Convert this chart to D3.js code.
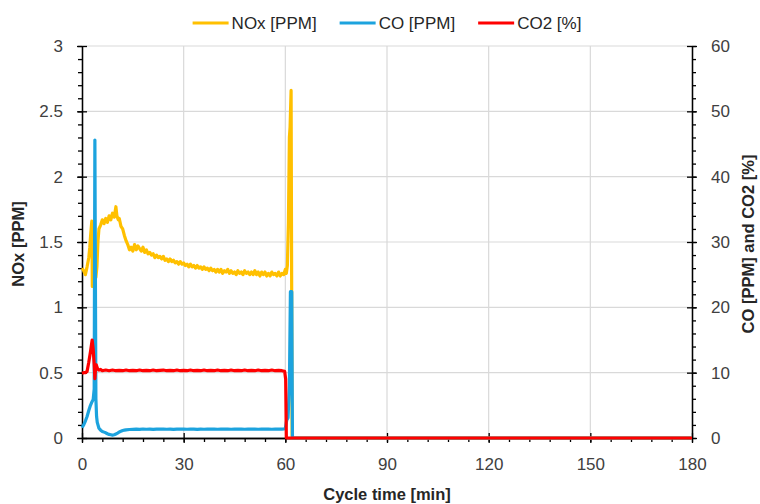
<!DOCTYPE html>
<html><head><meta charset="utf-8">
<script src="https://cdn.jsdelivr.net/npm/d3@7"></script>
<style>
html,body{margin:0;padding:0;background:#fff;}
svg{display:block;}
text{font-family:"Liberation Sans", Arial, sans-serif;}
</style></head>
<body>
<svg id="chart" width="760" height="504"></svg>
<script>
// ---- data ----
const xTickValues = [0, 30, 60, 90, 120, 150, 180];
const leftTickValues = [0, 0.5, 1, 1.5, 2, 2.5, 3];
const rightTickValues = [0, 10, 20, 30, 40, 50, 60];
const seriesNames = ["NOx [PPM]", "CO [PPM]", "CO2 [%]"];

const noxTime = [0,0.5,1,1.5,2,2.3,2.6,2.9,3.05,3.2,3.5,3.8,4.1,4.4,4.7,5,5.5,6,6.5,7,7.5,8,8.5,9,9.5,10,10.3,10.7,11,11.5,12,12.5,13,13.5,14,14.5,
15,15.5,16,16.5,17,17.5,18,18.5,19,19.5,20,20.5,21,21.5,22,22.5,23,23.5,24,24.5,25,25.5,26,26.5,27,27.5,28,28.5,29,29.5,
30,30.5,31,31.5,32,32.5,33,33.5,34,34.5,35,35.5,36,36.5,37,37.5,38,38.5,39,39.5,40,40.5,41,41.5,42,42.5,43,43.5,44,44.5,
45,45.5,46,46.5,47,47.5,48,48.5,49,49.5,50,50.5,51,51.5,52,52.5,53,53.5,54,54.5,55,55.5,56,56.5,57,57.5,58,58.5,59,59.5,
60,60.3,60.6,60.9,61.2,61.4,61.7,62.0,180];
const noxValues = [1.30,1.28,1.25,1.31,1.38,1.46,1.57,1.66,1.16,1.44,1.36,1.26,1.23,1.31,1.50,1.60,1.63,1.67,1.64,1.68,1.65,1.70,1.67,1.72,1.69,1.77,1.70,1.67,1.68,1.62,1.60,1.55,1.51,1.48,1.44,1.46,
1.43,1.48,1.44,1.47,1.45,1.43,1.46,1.42,1.44,1.41,1.42,1.40,1.41,1.38,1.40,1.38,1.39,1.37,1.39,1.36,1.37,1.35,1.37,1.35,1.36,1.34,1.35,1.33,1.35,1.33,
1.34,1.32,1.33,1.31,1.33,1.31,1.32,1.30,1.32,1.30,1.31,1.29,1.31,1.29,1.30,1.28,1.30,1.28,1.29,1.27,1.29,1.27,1.29,1.26,1.28,1.27,1.29,1.26,1.28,1.26,
1.27,1.25,1.28,1.26,1.27,1.25,1.28,1.26,1.27,1.25,1.27,1.25,1.28,1.25,1.27,1.24,1.27,1.25,1.27,1.24,1.26,1.24,1.27,1.25,1.26,1.24,1.27,1.24,1.26,1.25,
1.29,1.26,1.32,1.64,2.30,2.38,2.66,0,0];

const coTime = [0,0.5,1,1.5,2,2.5,3,3.3,3.6,3.8,3.95,4.1,4.3,4.5,5,5.5,6,6.5,7,7.5,8,8.5,9,9.5,10,10.5,11,11.5,12,12.5,13,14,
15,16,17,18,19,20,21,22,23,24,25,26,27,28,29,30,31,32,33,34,35,36,37,38,39,40,41,42,43,44,45,46,47,48,49,50,51,52,53,54,55,56,57,58,59,
59.6,60,60.4,60.8,61.2,61.5,61.9,62.1,180];
const coValues = [1.6,2.0,2.6,3.3,4.2,5.0,5.6,5.9,7.5,45.6,25,6,3.3,2.4,1.5,1.2,1.0,0.9,0.8,0.65,0.55,0.5,0.45,0.5,0.62,0.75,0.92,1.05,1.15,1.2,1.25,1.3,
1.33,1.36,1.32,1.38,1.34,1.36,1.33,1.37,1.35,1.38,1.34,1.36,1.33,1.37,1.35,1.36,1.34,1.37,1.35,1.33,1.36,1.34,1.37,1.35,1.36,1.34,1.37,1.35,1.36,1.34,1.37,1.35,1.36,1.34,1.37,1.35,1.36,1.34,1.37,1.35,1.36,1.34,1.36,1.35,1.36,
1.38,1.5,2.7,3.1,8,22.4,22.4,0,0];

const co2Time = [0,0.5,1,1.5,2,2.5,3,3.3,3.6,3.8,4.0,4.2,4.6,5,5.5,6,7,8,9,10,11,12,13,14,
15,16,17,18,19,20,21,22,23,24,25,26,27,28,29,30,31,32,33,34,35,36,37,38,39,40,41,42,43,44,45,46,47,48,49,50,51,52,53,54,55,56,57,58,59,
59.8,60.1,60.3,180];
const co2Values = [9.9,10.0,10.0,10.2,11.6,13.2,15.0,13.6,11.2,9.1,10.6,11.2,10.6,10.4,10.5,10.3,10.4,10.3,10.4,10.3,10.35,10.3,10.4,10.3,
10.35,10.3,10.4,10.3,10.35,10.3,10.4,10.3,10.35,10.4,10.3,10.35,10.3,10.4,10.3,10.35,10.3,10.4,10.3,10.35,10.3,10.4,10.3,10.35,10.3,10.4,10.3,10.35,10.3,10.4,10.3,10.35,10.3,10.4,10.3,10.35,10.3,10.4,10.3,10.35,10.3,10.4,10.3,10.35,10.3,
10.2,9.0,0,0];

// ---- layout ----
const svg = d3.select("#chart");
const L = 82, R = 692, T = 46, B = 438;
const x = d3.scaleLinear().domain([0, 180]).range([L, R]);
const yL = d3.scaleLinear().domain([0, 3]).range([B, T]);
const yR = d3.scaleLinear().domain([0, 60]).range([B, T]);

const colors = ["#FFC000", "#1CA3DE", "#FF0000"];
const axisColor = "#000";
const labelColor = "#404040";

// gridlines
const g = svg.append("g");
g.selectAll("line.h").data(leftTickValues.filter(d => d > 0)).join("line")
  .attr("x1", L).attr("x2", R).attr("y1", d => yL(d)).attr("y2", d => yL(d))
  .attr("stroke", "#d9d9d9").attr("stroke-width", 1.2);
g.selectAll("line.v").data(xTickValues.filter(d => d > 0 && d < 180)).join("line")
  .attr("x1", d => x(d)).attr("x2", d => x(d)).attr("y1", T).attr("y2", B)
  .attr("stroke", "#d9d9d9").attr("stroke-width", 1.2);

const series = [
  {t: noxTime, v: noxValues, y: yL, c: colors[0]},
  {t: coTime, v: coValues, y: yR, c: colors[1]},
  {t: co2Time, v: co2Values, y: yR, c: colors[2]}
];

function styleAxis(sel) {
  sel.select(".domain").attr("stroke", axisColor).attr("stroke-width", 1.3);
  sel.selectAll(".tick line").attr("stroke", axisColor).attr("stroke-width", 1.3);
  sel.selectAll(".tick text").attr("fill", labelColor).style("font-size", "17px");
}
const minorX = d3.range(0, 181, 6);
const minorY = d3.range(0, 3.001, 0.1);
const minorYR = d3.range(0, 60.001, 2);

svg.append("g").attr("transform", `translate(0,${B})`)
  .call(d3.axisBottom(x).tickValues(minorX).tickSize(4).tickFormat("").tickSizeOuter(0))
  .call(styleAxis);
svg.append("g").attr("transform", `translate(${L},0)`)
  .call(d3.axisLeft(yL).tickValues(minorY).tickSize(4).tickFormat("").tickSizeOuter(0))
  .call(styleAxis);
svg.append("g").attr("transform", `translate(${R},0)`)
  .call(d3.axisRight(yR).tickValues(minorYR).tickSize(4).tickFormat("").tickSizeOuter(0))
  .call(styleAxis);

const ax = svg.append("g").attr("transform", `translate(0,${B})`)
  .call(d3.axisBottom(x).tickValues(xTickValues).tickSize(5).tickPadding(15).tickSizeOuter(0))
  .call(styleAxis);
ax.selectAll(".tick line").attr("y1", -5);
const ayl = svg.append("g").attr("transform", `translate(${L},0)`)
  .call(d3.axisLeft(yL).tickValues(leftTickValues).tickSize(5).tickPadding(14).tickSizeOuter(0).tickFormat(d3.format("")))
  .call(styleAxis);
ayl.selectAll(".tick line").attr("x1", 5);
const ayr = svg.append("g").attr("transform", `translate(${R},0)`)
  .call(d3.axisRight(yR).tickValues(rightTickValues).tickSize(5).tickPadding(14).tickSizeOuter(0))
  .call(styleAxis);
ayr.selectAll(".tick line").attr("x1", -5);

series.forEach(s => {
  const pts = s.t.map((t, i) => [t, s.v[i]]);
  svg.append("path").datum(pts)
    .attr("fill", "none").attr("stroke", s.c).attr("stroke-width", 3.2)
    .attr("stroke-linejoin", "round").attr("stroke-linecap", "butt")
    .attr("d", d3.line().x(d => x(d[0])).y(d => s.y(d[1])));
});

// axis titles
svg.append("text").attr("x", (L + R) / 2).attr("y", 500)
  .attr("text-anchor", "middle").attr("font-weight", "bold").attr("font-size", 16.5).attr("fill", "#262626")
  .text("Cycle time [min]");
svg.append("text").attr("transform", `translate(24,${(T + B) / 2 + 2}) rotate(-90)`)
  .attr("text-anchor", "middle").attr("font-weight", "bold").attr("font-size", 16.5).attr("fill", "#262626")
  .text("NOx [PPM]");
svg.append("text").attr("transform", `translate(754,${(T + B) / 2 + 2}) rotate(-90)`)
  .attr("text-anchor", "middle").attr("font-weight", "bold").attr("font-size", 16.5).attr("fill", "#262626")
  .text("CO [PPM] and CO2 [%]");

// legend
const lg = svg.append("g");
const items = seriesNames.map((n, i) => {
  const it = lg.append("g");
  it.append("line").attr("x1", 0).attr("x2", 36).attr("y1", 0).attr("y2", 0)
    .attr("stroke", colors[i]).attr("stroke-width", 3);
  const tx = it.append("text").attr("x", 39).attr("y", 6).attr("font-size", 17).attr("fill", "#262626").text(n);
  return {it, w: 39 + tx.node().getComputedTextLength()};
});
const gap = 23;
const total = d3.sum(items, d => d.w) + gap * (items.length - 1);
let cx = (L + R) / 2 - total / 2;
items.forEach(d => { d.it.attr("transform", `translate(${cx},23)`); cx += d.w + gap; });
</script>
</body></html>
